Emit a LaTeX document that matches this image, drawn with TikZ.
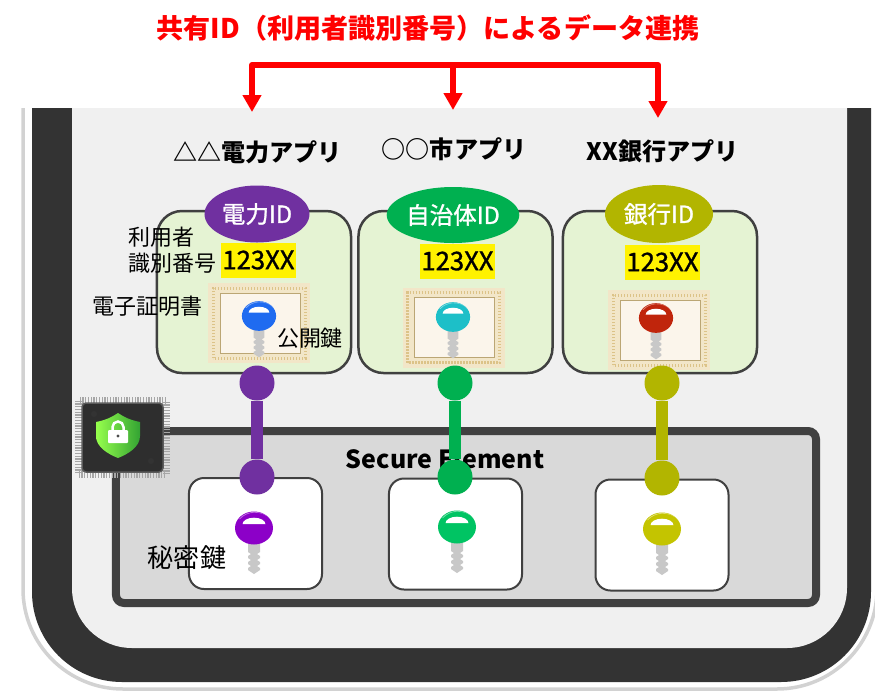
\documentclass[tikz,border=0pt]{standalone}
\usepackage{fontspec}
\setmainfont{Noto Sans CJK JP}
\newfontfamily\heavier[FakeBold=1.2]{Noto Sans CJK JP}
\usetikzlibrary{shapes.geometric,arrows.meta}

\definecolor{frame}{HTML}{333333}
\definecolor{screen}{HTML}{F0F0F0}
\definecolor{edge}{HTML}{404040}
\definecolor{sefill}{HTML}{D9D9D9}
\definecolor{panel}{HTML}{E5F3D3}
\definecolor{denki}{HTML}{7030A0}
\definecolor{jichi}{HTML}{00B050}
\definecolor{ginko}{HTML}{B2B500}
\definecolor{certout}{HTML}{F2E6C8}
\definecolor{certin}{HTML}{FBF5EB}
\definecolor{certgold}{HTML}{DCC388}
\definecolor{keygray}{HTML}{C8C8C8}
\definecolor{pubA}{HTML}{1F6BF0}
\definecolor{pubB}{HTML}{1DBFC8}
\definecolor{pubC}{HTML}{C0250C}
\definecolor{secA}{HTML}{8C00C8}
\definecolor{secB}{HTML}{00C463}
\definecolor{secC}{HTML}{C4C400}

\tikzset{
  apptitle/.style={font=\fontsize{13.7pt}{16pt}\selectfont\bfseries},
  note/.style={font=\fontsize{12.5pt}{14.8pt}\selectfont},
  panelbox/.style={draw=edge, fill=panel, line width=0.5mm, rounded corners=5mm,
    minimum width=3.88cm, minimum height=3.24cm},
  idtag/.style={ellipse, fill=#1, text=white, inner sep=0pt,
    font=\heavier\fontsize{13.4pt}{15pt}\selectfont},
  idnum/.style={fill=yellow, inner sep=0pt, minimum width=1.5cm, minimum height=0.7cm,
    font=\heavier\fontsize{14.6pt}{16pt}\selectfont},
  cert/.style={fill=certout, inner sep=0pt, minimum width=2.04cm, minimum height=1.6cm,
    path picture={
      \draw[certgold, line width=0.6mm, dash pattern=on 0.25mm off 0.35mm]
        ([shift={(0.1cm,0.1cm)}]path picture bounding box.south west) rectangle
        ([shift={(-0.1cm,-0.1cm)}]path picture bounding box.north east);
      \filldraw[fill=certin, draw=certgold!85!black, line width=0.15mm]
        ([shift={(0.24cm,0.2cm)}]path picture bounding box.south west) rectangle
        ([shift={(-0.2cm,-0.2cm)}]path picture bounding box.north east);
    }},
  keybox/.style={draw=edge, fill=white, line width=0.4mm, rounded corners=3mm,
    minimum width=2.66cm, minimum height=2.22cm},
  sebox/.style={draw=edge, fill=sefill, line width=1.6mm, rounded corners=1.6mm,
    minimum width=14cm, minimum height=3.44cm},
  dot/.style={circle, fill=#1, minimum size=0.7cm, inner sep=0pt},
  link/.style={line width=2.4mm, #1},
  share/.style={red, line width=1.2mm, line join=round},
  pics/key/.style={code={
    \fill[keygray] (-6,10) -- (-6,24) -- (-3,26) -- (-6,28) -- (-6,30) -- (-3,32) -- (-6,34)
      -- (-6,36) -- (-3,38) -- (-6,40) -- (-6,42) -- (0,46) -- (6,42) -- (6,40) -- (3,38)
      -- (6,36) -- (6,34) -- (3,32) -- (6,30) -- (6,28) -- (3,26) -- (6,24) -- (6,10) -- cycle;
    \fill[#1] (0,0) ellipse [x radius=19, y radius=16.5];
    \fill[#1!55!white] (-15,-9) arc[start angle=215, end angle=325, x radius=19, y radius=16.5]
      arc[start angle=325, end angle=215, x radius=18.3, y radius=15] -- cycle;
    \fill[white] (-11.5,-3.8) arc[start angle=180, end angle=360, x radius=11.5, y radius=6.5] -- cycle;
  }}
}

\begin{document}
\begin{tikzpicture}[x=0.2mm, y=-0.2mm]
\useasboundingbox (0,0) rectangle (875,693);

% phone body, cut off at the top
\begin{scope}
\clip (0,108) rectangle (875,693);
\draw[gray!35, line width=0.7mm, rounded corners=2cm] (23,0) rectangle (877,689);
\fill[frame, rounded corners=1.8cm] (32,0) rectangle (871,682);
\fill[screen, rounded corners=1.2cm] (72,0) rectangle (847,648);
\end{scope}

% secure element
\node[sebox] (se) at (466,517) {};

% chip icon
\draw[gray!70, line width=1.4mm, dash pattern=on 0.25mm off 0.3mm] (78.5,400.5) rectangle (166.5,474.5);
\filldraw[fill=frame!90!black, draw=frame!80!white, line width=0.3mm, rounded corners=0.8mm] (82,403) rectangle (163,472);
\fill[black!80] (94,414) circle (3) (151,461) circle (3);
\shade[left color=green!45!lime!70!white, right color=green!55!black!80]
  (96,422) .. controls (106,420) and (112,417) .. (118,413) .. controls (124,417) and (130,420) .. (140,422)
  -- (140,436) .. controls (140,447) and (128,454) .. (118,458) .. controls (108,454) and (96,447) .. (96,436) -- cycle;
\draw[white, line width=0.5mm] (112.5,431) -- (112.5,427) arc[start angle=180, end angle=360, radius=5.5] -- (123.5,431);
\fill[white, rounded corners=0.2mm] (108,430) rectangle (128,443);
\fill[black!70] (118,436) circle (1.6);

\node[font=\fontsize{14.2pt}{16pt}\selectfont\bfseries] (setitle) at (445,459) {Secure Element};

% boxes holding the private keys
\node[keybox] (box1) at (255.5,533.5) {};
\node[keybox] (box2) at (455.5,534) {};
\node[keybox] (box3) at (662,535) {};

% app panels
\node[panelbox] (app1) at (254,292) {};
\node[panelbox] (app2) at (455.5,292) {};
\node[panelbox] (app3) at (660,292) {};

\node[idtag=denki, minimum width=2.1cm, minimum height=1.14cm] (id1) at (257,214) {電力ID};
\node[idtag=jichi, minimum width=2.46cm, minimum height=1.12cm] (id2) at (453,215) {自治体ID};
\node[idtag=ginko, minimum width=2.16cm, minimum height=1.16cm] (id3) at (659,214) {銀行ID};

\node[idnum] (num1) at (258.5,260) {123XX};
\node[idnum] (num2) at (457.5,261) {123XX};
\node[idnum] (num3) at (662.5,262) {123XX};

\node[cert] (cert1) at (259,323) {};
\node[cert] (cert2) at (453.5,327.5) {};
\node[cert] (cert3) at (659,330) {};

\pic[scale=0.9] at (259,316) {key=pubA};
\pic[scale=0.9] at (453,317) {key=pubB};
\pic[scale=0.9] at (656,318) {key=pubC};

\pic at (254,528) {key=secA};
\pic at (457,527) {key=secB};
\pic at (662,529) {key=secC};

% labels
\node[note, anchor=west, align=left] (user) at (122,250) {利用者\\識別番号};
\node[note] (certlbl) at (147.5,306) {電子証明書};
\node[note] (publbl) at (310,338) {公開鍵};
\node[font=\fontsize{14.8pt}{17pt}\selectfont] (seclbl) at (187,558) {秘密鍵};

% links between public and private keys
\foreach \x/\y/\c [count=\i] in {257/477/denki, 455/477/jichi, 662/478/ginko} {
  \node[dot=\c] (top\i) at (\x,383) {};
  \node[dot=\c] (bot\i) at (\x,\y) {};
  \draw[link=\c] (top\i) -- (bot\i);
}

% app names
\node[apptitle] (name1) at (257.5,152) {△△電力アプリ};
\node[apptitle] (name2) at (454,149) {○○市アプリ};
\node[apptitle] (name3) at (663,151) {XX銀行アプリ};

% shared ID
\node[font=\fontsize{15.4pt}{18pt}\selectfont\bfseries, text=red] (title) at (428,28)
  {共有ID（利用者識別番号）によるデータ連携};
\coordinate (hub1) at (252,65);
\coordinate (hub2) at (453,65);
\coordinate (hub3) at (658,65);
\coordinate (in1) at (252,112);
\coordinate (in2) at (453,110);
\coordinate (in3) at (658,118);
\draw[share, {Triangle[width=3.6mm,length=3.4mm]}-{Triangle[width=3.6mm,length=3.4mm]}]
  (in1) -- (hub1) -- (hub3) -- (in3);
\draw[share, -{Triangle[width=3.6mm,length=3.4mm]}] (hub2) -- (in2);
\end{tikzpicture}
\end{document}
